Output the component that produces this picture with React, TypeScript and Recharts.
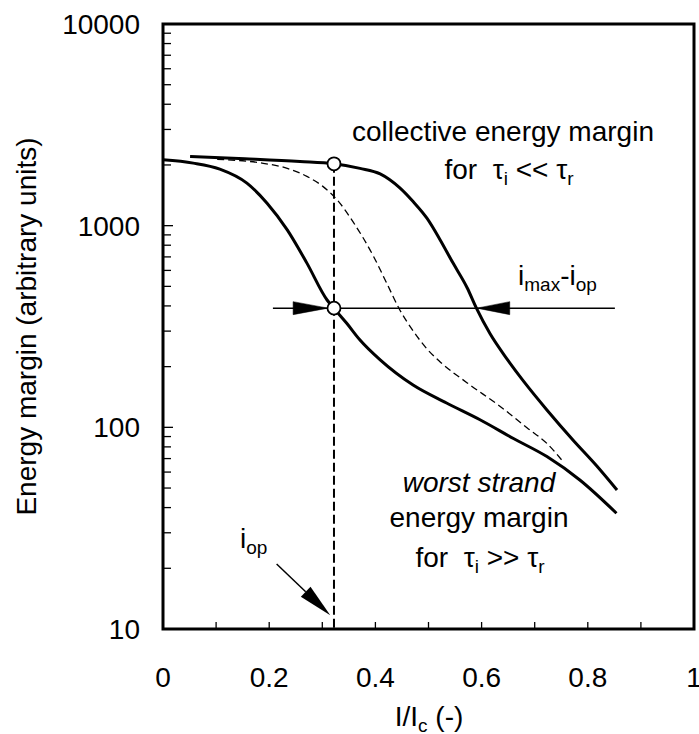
import React from 'react';
import { ComposedChart, Line, Scatter, XAxis, YAxis, ReferenceLine, ReferenceArea } from 'recharts';

const FONT = '"Liberation Sans", Arial, Helvetica, sans-serif';

// collective energy margin (tau_i << tau_r)
const collectiveX = [0.051, 0.154, 0.258, 0.322, 0.371, 0.409, 0.446, 0.471, 0.497, 0.522, 0.546, 0.573, 0.590, 0.616, 0.648, 0.680, 0.723, 0.772, 0.817, 0.855];
const collectiveY = [2202, 2145, 2080, 2026, 1924, 1807, 1540, 1317, 1089, 850, 654, 491, 391, 291, 218, 168, 122, 86.6, 64.3, 48.9];
// worst strand energy margin (tau_i >> tau_r)
const worstX = [0, 0.057, 0.107, 0.158, 0.196, 0.234, 0.271, 0.309, 0.322, 0.346, 0.371, 0.409, 0.471, 0.534, 0.597, 0.660, 0.723, 0.785, 0.854];
const worstY = [2120, 2042, 1907, 1625, 1293, 953, 652, 428, 389, 328, 271, 216, 162, 132, 109, 88, 71.6, 54.8, 37.5];
// intermediate (thin dashed) curve
const dashedX = [0.102, 0.183, 0.234, 0.271, 0.301, 0.328, 0.358, 0.396, 0.422, 0.446, 0.471, 0.497, 0.522, 0.573, 0.635, 0.686, 0.723, 0.753];
const dashedY = [2133, 2049, 1924, 1756, 1566, 1343, 1044, 708, 514, 382, 301, 245, 211, 166, 127, 99.3, 83.2, 67.8];

// operating point and annotation anchors (data units)
const iOp = 0.322;
const opCollective = 2026;
const opWorst = 390;
const marginLineX = [0.207, 0.851];
const leftHeadX = [0.245, 0.311];
const rightHeadX = [0.653, 0.591];
const iOpArrowStart = { x: 0.214, y: 21 };
const iOpArrowTip = { x: 0.315, y: 11.7 };

const xTicks = [0, 0.1, 0.2, 0.3, 0.4, 0.5, 0.6, 0.7, 0.8, 0.9, 1];
const xLabels: Record<string, string> = { '0': '0', '0.2': '0.2', '0.4': '0.4', '0.6': '0.6', '0.8': '0.8', '1': '1' };
const yTicks = [10, 20, 30, 40, 50, 60, 70, 80, 90, 100, 200, 300, 400, 500, 600, 700, 800, 900, 1000, 2000, 3000, 4000, 5000, 6000, 7000, 8000, 9000, 10000];
const yLabels: Record<string, string> = { '10': '10', '100': '100', '1000': '1000', '10000': '10000' };

const toPts = (xs: number[], ys: number[]) => xs.map((x, i) => ({ x, y: ys[i] }));
const collectiveData = toPts(collectiveX, collectiveY);
const worstData = toPts(worstX, worstY);
const dashedData = toPts(dashedX, dashedY);
const opVertical = [{ x: iOp, y: opCollective }, { x: iOp, y: 10 }];
const marginLine = [{ x: marginLineX[0], y: opWorst }, { x: marginLineX[1], y: opWorst }];
const opPoints = [{ x: iOp, y: opCollective }, { x: iOp, y: opWorst }];

const YTick = (props: any) => {
  const { x, y, payload } = props;
  const v = payload.value;
  const label = yLabels[String(v)];
  const isEdge = v === 10 || v === 10000;
  const len = label ? 10 : 8;
  return (
    <g>
      {!isEdge && <line x1={x} x2={x + len} y1={y} y2={y} stroke="#000" strokeWidth={1.3} />}
      {label && (
        <text x={x - 23} y={y + 10} textAnchor="end" fontSize={28} fontFamily={FONT} fill="#000">
          {label}
        </text>
      )}
    </g>
  );
};

const XTick = (props: any) => {
  const { x, y, payload } = props;
  const v = payload.value;
  const label = xLabels[String(v)];
  const isEdge = v === 0 || v === 1;
  return (
    <g>
      {!isEdge && <line x1={x} x2={x} y1={y} y2={y - 7} stroke="#000" strokeWidth={1.3} />}
      {label && (
        <text x={x} y={y + 58} textAnchor="middle" fontSize={28} fontFamily={FONT} fill="#000">
          {label}
        </text>
      )}
    </g>
  );
};

const ArrowHead = (props: any) => {
  const { x1, y1, x2, y2 } = props;
  const dx = x2 - x1;
  const dy = y2 - y1;
  const len = Math.sqrt(dx * dx + dy * dy) || 1;
  const px = -dy / len;
  const py = dx / len;
  const w = 6.5;
  const pts = `${x2},${y2} ${x1 + px * w},${y1 + py * w} ${x1 - px * w},${y1 - py * w}`;
  return <polygon points={pts} fill="#000" stroke="#000" strokeWidth={0.5} />;
};

const DiagArrow = (props: any) => {
  const { x1, y1, x2, y2 } = props;
  const dx = x2 - x1;
  const dy = y2 - y1;
  const len = Math.sqrt(dx * dx + dy * dy) || 1;
  const ux = dx / len;
  const uy = dy / len;
  const head = 34;
  const w = 7;
  const bx = x2 - ux * head;
  const by = y2 - uy * head;
  const pts = `${x2},${y2} ${bx - uy * w},${by + ux * w} ${bx + uy * w},${by - ux * w}`;
  return (
    <g>
      <line x1={x1} y1={y1} x2={bx} y2={by} stroke="#000" strokeWidth={1.5} />
      <polygon points={pts} fill="#000" />
    </g>
  );
};

const OpCircle = (props: any) => (
  <circle cx={props.cx} cy={props.cy} r={6.5} fill="#fff" stroke="#000" strokeWidth={1.8} />
);

export default function App() {
  const sub = 19;
  return (
    <div style={{ position: 'absolute', left: 0, top: 0, width: 699, height: 734, overflow: 'hidden', background: '#fff' }}>
      <ComposedChart width={699} height={734} margin={{ top: 24, right: 5, bottom: 0, left: 0 }}>
        <XAxis
          type="number"
          dataKey="x"
          domain={[0, 1]}
          ticks={xTicks}
          interval={0}
          axisLine={false}
          tickLine={false}
          tickSize={0}
          tickMargin={0}
          height={105}
          tick={XTick}
          allowDataOverflow
        />
        <YAxis
          type="number"
          dataKey="y"
          scale="log"
          domain={[10, 10000]}
          ticks={yTicks}
          interval={0}
          axisLine={false}
          tickLine={false}
          tickSize={0}
          tickMargin={0}
          width={163}
          tick={YTick}
          allowDataOverflow
        />
        <ReferenceArea x1={0} x2={1} y1={10} y2={10000} fill="none" stroke="#000" strokeWidth={3} fillOpacity={0} ifOverflow="visible" />
        <Line data={opVertical} dataKey="y" type="linear" stroke="#000" strokeWidth={2} strokeDasharray="9 4" dot={false} isAnimationActive={false} />
        <Line data={marginLine} dataKey="y" type="linear" stroke="#000" strokeWidth={1.5} dot={false} isAnimationActive={false} />
        <Line data={dashedData} dataKey="y" type="monotone" stroke="#000" strokeWidth={1.3} strokeDasharray="7 4" dot={false} isAnimationActive={false} />
        <Line data={worstData} dataKey="y" type="monotone" stroke="#000" strokeWidth={3} dot={false} isAnimationActive={false} />
        <Line data={collectiveData} dataKey="y" type="monotone" stroke="#000" strokeWidth={3} dot={false} isAnimationActive={false} />
        <ReferenceLine segment={[{ x: leftHeadX[0], y: opWorst }, { x: leftHeadX[1], y: opWorst }]} shape={ArrowHead} ifOverflow="visible" />
        <ReferenceLine segment={[{ x: rightHeadX[0], y: opWorst }, { x: rightHeadX[1], y: opWorst }]} shape={ArrowHead} ifOverflow="visible" />
        <ReferenceLine segment={[iOpArrowStart, iOpArrowTip]} shape={DiagArrow} ifOverflow="visible" />
        <Scatter data={opPoints} dataKey="y" shape={OpCircle} isAnimationActive={false} />
      </ComposedChart>
      <svg width={699} height={734} style={{ position: 'absolute', left: 0, top: 0, pointerEvents: 'none' }} fontFamily={FONT} fontSize={28} fill="#000">
        <text x={36} y={326.5} textAnchor="middle" transform="rotate(-90 36 326.5)">Energy margin (arbitrary units)</text>
        <text x={429} y={726} textAnchor="middle">
          I/I<tspan dy={6} fontSize={sub}>c</tspan><tspan dy={-6}> (-)</tspan>
        </text>
        <text x={503} y={141} textAnchor="middle">collective energy margin</text>
        <text x={509} y={179} textAnchor="middle" style={{ whiteSpace: 'pre' }}>
          {'for  τ'}<tspan dy={6} fontSize={sub}>i</tspan><tspan dy={-6}>{' << τ'}</tspan><tspan dy={6} fontSize={sub}>r</tspan>
        </text>
        <text x={518} y={285} textAnchor="start">
          i<tspan dy={6} fontSize={sub}>max</tspan><tspan dy={-6}>-i</tspan><tspan dy={6} fontSize={sub}>op</tspan>
        </text>
        <text x={479} y={492} textAnchor="middle" fontStyle="italic">worst strand</text>
        <text x={479} y={527} textAnchor="middle">energy margin</text>
        <text x={480} y={567} textAnchor="middle" style={{ whiteSpace: 'pre' }}>
          {'for  τ'}<tspan dy={6} fontSize={sub}>i</tspan><tspan dy={-6}>{' >> τ'}</tspan><tspan dy={6} fontSize={sub}>r</tspan>
        </text>
        <text x={240} y={548} textAnchor="start">
          i<tspan dy={6} fontSize={sub}>op</tspan>
        </text>
      </svg>
    </div>
  );
}
